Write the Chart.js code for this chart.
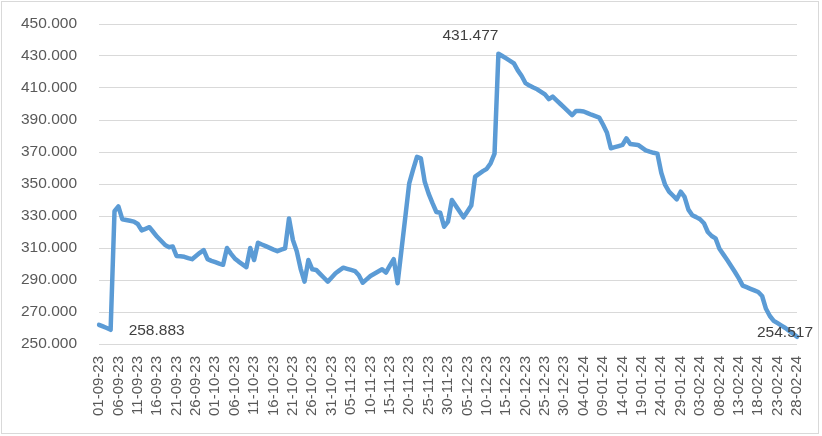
<!DOCTYPE html>
<html>
<head>
<meta charset="utf-8">
<script src="https://cdn.jsdelivr.net/npm/chart.js@4/dist/chart.umd.min.js"></script>
<style>
  body { margin: 0; background: #fff; }
  #wrap { position: relative; width: 822px; height: 436px; }
  #frame { position: absolute; left: 1px; top: 1px; width: 816px; height: 431px; border: 1px solid #d9d9d9; pointer-events: none; }
  canvas { position: absolute; left: 0; top: 0; }
</style>
</head>
<body>
<div id="wrap">
  <canvas id="myChart" width="822" height="436"></canvas>
  <div id="frame"></div>
</div>
<script>
// one value per day, 01-09-23 .. 28-02-24
const startDate = [2023, 8, 1];
const dayCount = 181;
const values = [
  262.0, 261.0, 260.0, 258.883, 333.0, 336.0, 328.0, 327.5, 327.0, 326.5,
  325.0, 321.0, 322.0, 323.0, 320.0, 317.0, 314.5, 312.0, 310.5, 311.0,
  305.0, 304.8, 304.5, 303.7, 303.0, 305.0, 307.0, 308.7, 303.0, 302.0,
  301.2, 300.3, 299.5, 310.0, 306.5, 303.5, 301.5, 299.8, 298.0, 310.0,
  302.5, 313.3, 312.2, 311.2, 310.1, 309.0, 308.0, 309.0, 309.8, 328.5,
  315.0, 308.0, 297.0, 289.0, 302.5, 296.7, 296.3, 293.8, 291.4, 289.0,
  291.6, 294.2, 296.0, 297.7, 297.0, 296.3, 295.6, 293.0, 288.3, 290.4,
  292.5, 293.9, 295.3, 296.7, 294.6, 299.0, 303.0, 288.0, 308.8, 329.6,
  350.4, 359.0, 367.0, 366.0, 351.4, 344.0, 338.0, 332.5, 332.0, 323.3,
  326.5, 340.0, 336.4, 332.8, 329.2, 332.8, 336.5, 354.6, 356.3, 358.0,
  359.5, 363.0, 369.0, 431.477, 430.0, 428.5, 427.0, 425.4, 421.0, 417.5,
  413.0, 411.5, 410.3, 409.2, 407.6, 406.0, 403.0, 404.6, 402.3, 400.0,
  397.7, 395.4, 393.0, 395.6, 395.6, 395.3, 394.3, 393.3, 392.4, 391.5,
  387.0, 382.0, 372.3, 373.0, 373.7, 374.4, 378.5, 375.0, 374.7, 374.4,
  372.7, 371.0, 370.2, 369.5, 369.0, 357.0, 349.4, 345.2, 342.8, 340.4,
  345.2, 342.0, 334.0, 330.5, 329.3, 328.0, 325.5, 320.0, 317.5, 316.0,
  309.5, 306.0, 302.5, 298.8, 295.0, 291.0, 286.5, 285.5, 284.5, 283.5,
  282.5, 280.0, 272.0, 267.5, 264.5, 263.0, 261.5, 260.0, 258.2, 256.4,
  254.517
];
// points that carry a data label
const labelled = [3, 103, 180];

const yMin = 250;
const yMax = 450;
const yStep = 20;

function pad(n) {
    return (n < 10 ? '0' : '') + n;
}

let labels = [];
for (let i = 0; i < dayCount; i++) {
    let d = new Date(startDate[0], startDate[1], startDate[2] + i);
    labels.push(pad(d.getDate()) + '-' + pad(d.getMonth() + 1) + '-' + String(d.getFullYear()).slice(2));
}

// where each data label sits relative to its point
const labelOffsets = {
    3: { dx: 18, dy: 1, align: 'left' },
    103: { dx: -28, dy: -18, align: 'center' },
    180: { dx: -12, dy: -4, align: 'center' }
};

const pointLabels = {
    id: 'pointLabels',
    afterDatasetsDraw(chart) {
        const ctx = chart.ctx;
        const meta = chart.getDatasetMeta(0);
        ctx.save();
        ctx.font = '15.5px "Liberation Sans", Arial, sans-serif';
        ctx.fillStyle = '#404040';
        ctx.textBaseline = 'middle';
        labelled.forEach(i => {
            const pt = meta.data[i];
            const o = labelOffsets[i];
            ctx.textAlign = o.align;
            ctx.fillText(values[i].toFixed(3), pt.x + o.dx, pt.y + o.dy);
        });
        ctx.restore();
    }
};

new Chart(document.getElementById('myChart').getContext('2d'), {
    type: 'line',
    data: {
        labels: labels,
        datasets: [{
            data: values,
            borderColor: '#5b9bd5',
            borderWidth: 4.5,
            borderJoinStyle: 'round',
            borderCapStyle: 'round',
            pointRadius: 0,
            tension: 0,
            fill: false
        }]
    },
    options: {
        responsive: false,
        animation: false,
        layout: { padding: { top: 24, right: 25, bottom: 0, left: 0 } },
        plugins: {
            legend: { display: false },
            tooltip: { enabled: false }
        },
        scales: {
            x: {
                offset: false,
                grid: { display: false, drawTicks: false },
                border: { display: false },
                afterFit: s => { s.height = 92; s.paddingLeft = 0; s.paddingRight = 0; },
                ticks: {
                    autoSkip: false,
                    minRotation: 90,
                    maxRotation: 90,
                    padding: 12,
                    color: '#595959',
                    font: { family: '"Liberation Sans", Arial, sans-serif', size: 15 },
                    callback: function (v, i) { return i % 5 === 0 ? labels[i] : ''; }
                }
            },
            y: {
                min: yMin,
                max: yMax,
                grid: { color: '#d9d9d9', lineWidth: 1, drawTicks: false },
                border: { display: false },
                afterFit: s => { s.width = 99; s.paddingTop = 0; s.paddingBottom = 0; },
                ticks: {
                    stepSize: yStep,
                    padding: 22,
                    color: '#595959',
                    font: { family: '"Liberation Sans", Arial, sans-serif', size: 15.5 },
                    callback: v => v.toFixed(3)
                }
            }
        }
    },
    plugins: [pointLabels]
});
</script>
</body>
</html>
